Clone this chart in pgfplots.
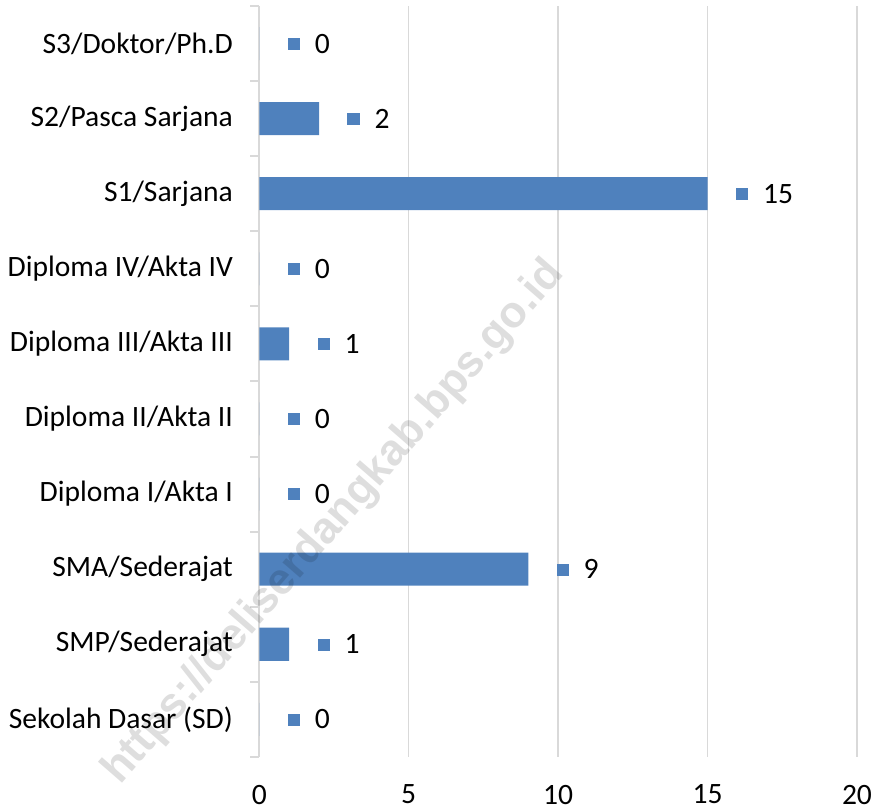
\documentclass[border=0pt]{standalone}
\usepackage{fontspec}
\setmainfont{Carlito}
\newfontfamily\wmfont{Liberation Sans}
\usepackage{pgfplots}
\pgfplotsset{compat=1.18}
\definecolor{barblue}{HTML}{4F81BD}
\definecolor{gridgray}{HTML}{D9D9D9}

\begin{document}
\begin{tikzpicture}
\begin{axis}[
  name=ax,
  set layers,
  scale only axis,
  width=298.5pt, height=375pt,
  xbar, bar width=16.5pt,
  xmin=0, xmax=20,
  ymin=-0.5, ymax=9.5,
  clip=false,
  font=\fontsize{14.75}{17}\selectfont,
  /pgf/number format/assume math mode=true,
  axis lines*=left,
  x axis line style={draw=none},
  y axis line style={draw=gridgray, line width=1pt},
  xtick={0,5,10,15,20},
  xtick style={draw=none},
  xmajorgrids,
  grid style={draw=gridgray, line width=0.7pt},
  xticklabel style={yshift=-10.5pt},
  ytick={0,...,9},
  yticklabels={Sekolah Dasar (SD),SMP/Sederajat,SMA/Sederajat,Diploma I/Akta I,Diploma II/Akta II,Diploma III/Akta III,Diploma IV/Akta IV,S1/Sarjana,S2/Pasca Sarjana,S3/Doktor/Ph.D},
  major tick length=0pt,
  minor ytick={-0.5,0.5,...,9.5},
  minor tick length=4.5pt,
  tick align=outside,
  minor tick style={draw=gridgray, line width=1pt},
  yticklabel style={anchor=east, inner sep=0pt, xshift=-13pt},
  nodes near coords={\textcolor{barblue}{\raisebox{1.6pt}{\rule{6pt}{6pt}}}\hspace{7.5pt}\pgfmathprintnumber{\pgfplotspointmeta}},
  nodes near coords style={anchor=west, inner sep=0pt, xshift=14pt, text=black},
]
\addplot[fill=barblue, draw=none] coordinates {
  (0,0) (1,1) (9,2) (0,3) (0,4) (1,5) (0,6) (15,7) (2,8) (0,9)
};
\node[rotate=49, text=black, opacity=0.13, font=\wmfont\bfseries\fontsize{22}{26}\selectfont]
  at (axis cs:2.5,2.62) {https://deliserdangkab.bps.go.id};
\end{axis}
\pgfresetboundingbox
\path[use as bounding box] ([xshift=-129.5pt,yshift=-26.5pt]ax.south west) rectangle ([xshift=10.5pt,yshift=3pt]ax.north east);
\end{tikzpicture}
\end{document}
